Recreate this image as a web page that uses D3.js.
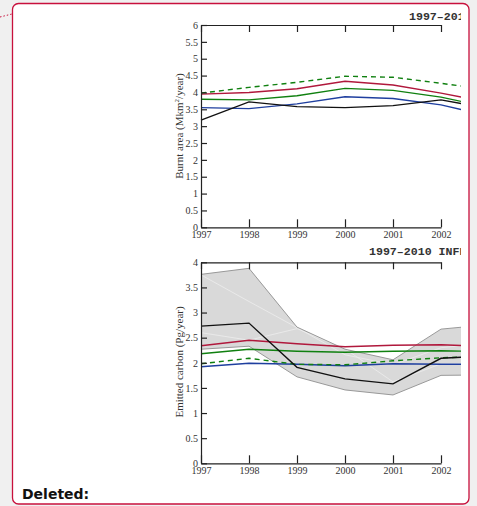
<!DOCTYPE html>
<html>
<head>
<meta charset="utf-8">
<script src="https://cdn.jsdelivr.net/npm/d3@7"></script>
<style>
  body { margin: 0; background: #f0f0f0; }
  svg { display: block; }
</style>
</head>
<body>
<script>
// values (the chart is cut off a little after 2002)
const years = [1997, 1998, 1999, 2000, 2001, 2002, 2003];
const yearTicks = [1997, 1998, 1999, 2000, 2001, 2002, 2003, 2004];

const burntRed = [3.95, 4.00, 4.11, 4.33, 4.22, 3.98, 3.70];
const burntGreenDashed = [3.98, 4.15, 4.30, 4.48, 4.45, 4.27, 4.08];
const burntGreen = [3.80, 3.78, 3.90, 4.12, 4.06, 3.86, 3.56];
const burntBlue = [3.55, 3.52, 3.66, 3.87, 3.82, 3.63, 3.30];
const burntBlack = [3.18, 3.72, 3.58, 3.55, 3.61, 3.78, 3.52];

const carbonRed = [2.34, 2.45, 2.38, 2.32, 2.35, 2.36, 2.32];
const carbonGreen = [2.18, 2.27, 2.23, 2.21, 2.23, 2.24, 2.22];
const carbonGreenDashed = [1.98, 2.09, 1.97, 1.96, 2.04, 2.10, 2.13];
const carbonBlue = [1.92, 1.99, 1.97, 1.94, 1.98, 1.97, 1.97];
const carbonBlack = [2.73, 2.79, 1.91, 1.68, 1.58, 2.09, 2.14];
const carbonBandUpper = [3.76, 3.88, 2.71, 2.27, 2.06, 2.67, 2.76];
const carbonBandLower = [2.27, 2.33, 1.72, 1.46, 1.36, 1.75, 1.76];
const carbonMemberA = [3.75, 3.22, 2.70, 2.16, 1.96, 2.30, 2.40];
const carbonMemberB = [2.60, 2.45, 2.68, 2.28, 1.62, 1.98, 2.00];

const width = 477;
const height = 506;
const clipRight = 461;

const svg = d3.select("body").append("svg")
  .attr("width", width)
  .attr("height", height);

// page frame
svg.append("line")
  .attr("x1", 0).attr("y1", 17).attr("x2", 12).attr("y2", 14)
  .attr("stroke", "#c8103c")
  .attr("stroke-width", 1)
  .attr("stroke-dasharray", "1.5,2");

svg.append("rect")
  .attr("x", 12.5).attr("y", 3.5)
  .attr("width", 456.5).attr("height", 500.5)
  .attr("rx", 6)
  .attr("fill", "#ffffff")
  .attr("stroke", "#c8103c")
  .attr("stroke-width", 1.3);

svg.append("text")
  .attr("x", 22).attr("y", 499)
  .attr("font-family", "Verdana, 'DejaVu Sans', sans-serif")
  .attr("font-weight", "bold")
  .attr("font-size", 14)
  .attr("fill", "#111")
  .text("Deleted:");

svg.append("clipPath").attr("id", "cut")
  .append("rect")
  .attr("x", 0).attr("y", 0)
  .attr("width", clipRight).attr("height", height);

const chart = svg.append("g").attr("clip-path", "url(#cut)");

const xScale = d3.scaleLinear()
  .domain([1997, 2002])
  .range([201, 441]);

const drawPanel = (panel) => {
  const g = chart.append("g");

  const yScale = d3.scaleLinear()
    .domain([0, panel.max])
    .range([panel.bottom, panel.top]);

  const line = d3.line()
    .x((d, i) => xScale(years[i]))
    .y((d) => yScale(d));

  if (panel.band) {
    const area = d3.area()
      .x((d, i) => xScale(years[i]))
      .y0((d) => yScale(d[0]))
      .y1((d) => yScale(d[1]));
    g.append("path")
      .datum(d3.zip(panel.band.lower, panel.band.upper))
      .attr("d", area)
      .attr("fill", "#d9d9d9")
      .attr("stroke", "none");
    panel.band.members.forEach((m) => {
      g.append("path")
        .datum(m)
        .attr("d", line)
        .attr("fill", "none")
        .attr("stroke", "#eeeeee")
        .attr("stroke-width", 0.8);
    });
    [panel.band.upper, panel.band.lower].forEach((edge) => {
      g.append("path")
        .datum(edge)
        .attr("d", line)
        .attr("fill", "none")
        .attr("stroke", "#999")
        .attr("stroke-width", 1);
    });
  }

  panel.series.forEach((s) => {
    g.append("path")
      .datum(s.values)
      .attr("d", line)
      .attr("fill", "none")
      .attr("stroke", s.color)
      .attr("stroke-width", 1.4)
      .attr("stroke-dasharray", s.dashed ? "5,4" : null);
  });

  const yAxis = d3.axisLeft(yScale)
    .tickValues(d3.range(0, panel.max + 0.25, 0.5))
    .tickFormat(d3.format(""))
    .tickSize(-6)
    .tickSizeOuter(0)
    .tickPadding(3);
  const xAxis = d3.axisBottom(xScale)
    .tickValues(yearTicks)
    .tickFormat(d3.format("d"))
    .tickSize(-8)
    .tickSizeOuter(0)
    .tickPadding(4);
  const topAxis = d3.axisTop(xScale)
    .tickValues(yearTicks)
    .tickFormat("")
    .tickSize(-7)
    .tickSizeOuter(0);

  const styleAxis = (sel) => {
    sel.selectAll("path, line").attr("stroke", "#222").attr("stroke-width", 1.2);
    sel.selectAll("text")
      .attr("font-family", "'Liberation Serif', 'Times New Roman', serif")
      .attr("font-size", 10)
      .attr("fill", "#333");
  };

  g.append("g")
    .attr("transform", `translate(${xScale(1997)}, 0)`)
    .call(yAxis)
    .call(styleAxis);
  g.append("g")
    .attr("transform", `translate(0, ${panel.bottom})`)
    .call(xAxis)
    .call(styleAxis);
  g.append("g")
    .attr("transform", `translate(0, ${panel.top})`)
    .call(topAxis)
    .call(styleAxis);

  const label = g.append("text")
    .attr("transform", `translate(183, ${panel.labelY}) rotate(-90)`)
    .attr("text-anchor", "middle")
    .attr("font-family", "'Liberation Serif', 'Times New Roman', serif")
    .attr("font-size", 11)
    .attr("fill", "#333");
  panel.label(label);

  g.append("text")
    .attr("x", panel.titleX)
    .attr("y", panel.titleY)
    .attr("font-family", "'Liberation Mono', 'Courier New', monospace")
    .attr("font-size", 11.6)
    .attr("font-weight", "bold")
    .attr("fill", "#333")
    .text(panel.title);
};

drawPanel({
  top: 25,
  bottom: 227.3,
  max: 6,
  labelY: 126,
  titleX: 409,
  titleY: 20,
  title: "1997\u20132010 GFED",
  label: (t) => {
    t.append("tspan").text("Burnt area (Mkm");
    t.append("tspan").attr("dy", -4).attr("font-size", 7).text("2");
    t.append("tspan").attr("dy", 4).text("/year)");
  },
  series: [
    {values: burntBlue, color: "#1f3f9f"},
    {values: burntGreenDashed, color: "#108010", dashed: true},
    {values: burntGreen, color: "#108010"},
    {values: burntRed, color: "#b0183c"},
    {values: burntBlack, color: "#111"}
  ]
});

drawPanel({
  top: 262.3,
  bottom: 463.3,
  max: 4,
  labelY: 362,
  titleX: 369,
  titleY: 255,
  title: "1997\u20132010 INFERNO",
  label: (t) => t.text("Emitted carbon (Pg/year)"),
  band: {
    upper: carbonBandUpper,
    lower: carbonBandLower,
    members: [carbonMemberA, carbonMemberB]
  },
  series: [
    {values: carbonBlue, color: "#1f3f9f"},
    {values: carbonGreenDashed, color: "#108010", dashed: true},
    {values: carbonGreen, color: "#108010"},
    {values: carbonRed, color: "#b0183c"},
    {values: carbonBlack, color: "#111"}
  ]
});
</script>
</body>
</html>
